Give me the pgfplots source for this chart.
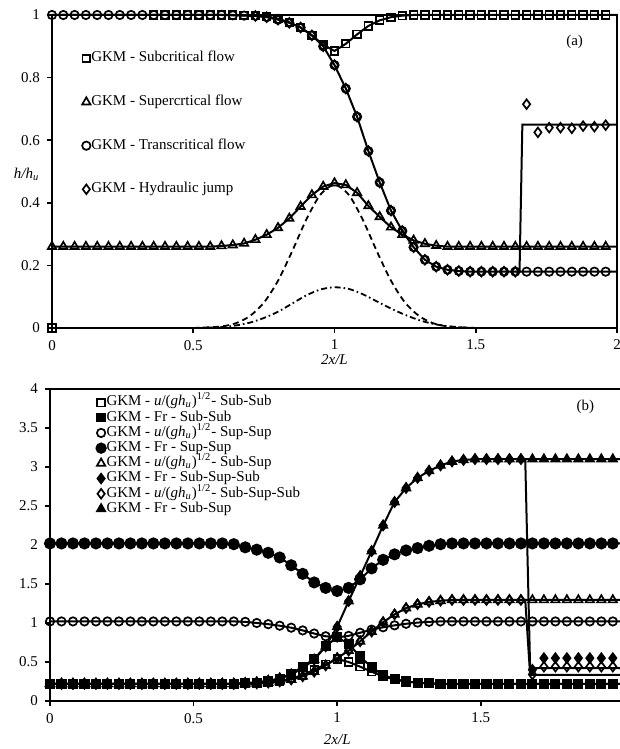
\documentclass[border=0pt]{standalone}
\usepackage{fontspec}
\setmainfont{Liberation Serif}
\usepackage{pgfplots}
\usepackage{pgfplotstable}
\pgfplotsset{compat=1.18}

% panel (a): h/hu for the four test cases
\pgfplotstableread{
x sub sup tra jmp
0.00 1 0.26 1 1
0.04 1 0.26 1 1
0.08 1 0.26 1 1
0.12 1 0.26 1 1
0.16 1 0.26 1 1
0.20 1 0.26 1 1
0.24 1 0.26 1 1
0.28 1 0.26 1 1
0.32 1 0.26 1 1
0.36 1 0.26 1 1
0.40 1 0.26 1 1
0.44 1 0.26 1 1
0.48 1 0.26 1 1
0.52 1 0.26 1 1
0.56 1 0.26 1 1
0.60 1 0.262 1 1
0.64 1 0.265 0.999 0.999
0.68 0.999 0.270 0.998 0.998
0.72 0.998 0.282 0.997 0.997
0.76 0.995 0.298 0.993 0.993
0.80 0.988 0.320 0.985 0.985
0.84 0.977 0.350 0.975 0.975
0.88 0.960 0.388 0.960 0.960
0.92 0.935 0.425 0.935 0.935
0.96 0.905 0.452 0.900 0.900
1.00 0.885 0.463 0.840 0.840
1.04 0.908 0.457 0.765 0.765
1.08 0.938 0.432 0.675 0.675
1.12 0.965 0.390 0.565 0.565
1.16 0.983 0.355 0.465 0.465
1.20 0.993 0.322 0.375 0.375
1.24 0.998 0.298 0.310 0.310
1.28 1 0.280 0.258 0.258
1.32 1 0.269 0.218 0.218
1.36 1 0.263 0.196 0.196
1.40 1 0.260 0.186 0.186
1.44 1 0.26 0.182 0.182
1.48 1 0.26 0.18 0.18
1.52 1 0.26 0.18 0.18
1.56 1 0.26 0.18 0.18
1.60 1 0.26 0.18 0.18
1.64 1 0.26 0.18 0.18
1.68 1 0.26 0.18 0.715
1.72 1 0.26 0.18 0.625
1.76 1 0.26 0.18 0.640
1.80 1 0.26 0.18 0.640
1.84 1 0.26 0.18 0.638
1.88 1 0.26 0.18 0.645
1.92 1 0.26 0.18 0.643
1.96 1 0.26 0.18 0.648
2.00 1 0.26 0.18 0.650
}\tabA

% panel (b): u/(g hu)^1/2 and Fr
\pgfplotstableread{
x uSS FSS uPP FPP uSP FSP uSPS FSPS
0.00 0.22 0.22 1.02 2.02 0.22 0.22 0.22 0.22
0.04 0.22 0.22 1.02 2.02 0.22 0.22 0.22 0.22
0.08 0.22 0.22 1.02 2.02 0.22 0.22 0.22 0.22
0.12 0.22 0.22 1.02 2.02 0.22 0.22 0.22 0.22
0.16 0.22 0.22 1.02 2.02 0.22 0.22 0.22 0.22
0.20 0.22 0.22 1.02 2.02 0.22 0.22 0.22 0.22
0.24 0.22 0.22 1.02 2.02 0.22 0.22 0.22 0.22
0.28 0.22 0.22 1.02 2.02 0.22 0.22 0.22 0.22
0.32 0.22 0.22 1.02 2.02 0.22 0.22 0.22 0.22
0.36 0.22 0.22 1.02 2.02 0.22 0.22 0.22 0.22
0.40 0.22 0.22 1.02 2.02 0.22 0.22 0.22 0.22
0.44 0.22 0.22 1.02 2.02 0.22 0.22 0.22 0.22
0.48 0.22 0.22 1.02 2.02 0.22 0.22 0.22 0.22
0.52 0.22 0.22 1.02 2.02 0.22 0.22 0.22 0.22
0.56 0.22 0.22 1.02 2.02 0.22 0.22 0.22 0.22
0.60 0.22 0.22 1.02 2.02 0.22 0.22 0.22 0.22
0.64 0.22 0.22 1.02 2.01 0.22 0.22 0.22 0.22
0.68 0.22 0.225 1.015 1.97 0.22 0.23 0.22 0.23
0.72 0.225 0.235 1.00 1.94 0.225 0.24 0.225 0.24
0.76 0.235 0.25 0.985 1.90 0.235 0.26 0.235 0.26
0.80 0.255 0.285 0.965 1.84 0.25 0.29 0.25 0.29
0.84 0.285 0.35 0.94 1.74 0.275 0.34 0.275 0.34
0.88 0.335 0.44 0.905 1.63 0.315 0.42 0.315 0.42
0.92 0.40 0.54 0.865 1.52 0.375 0.53 0.375 0.53
0.96 0.47 0.70 0.83 1.45 0.455 0.70 0.455 0.70
1.00 0.54 0.82 0.815 1.41 0.55 0.95 0.55 0.95
1.04 0.50 0.73 0.835 1.45 0.645 1.28 0.645 1.28
1.08 0.44 0.57 0.875 1.56 0.765 1.60 0.765 1.60
1.12 0.375 0.43 0.915 1.70 0.89 1.92 0.89 1.92
1.16 0.315 0.335 0.945 1.81 1.01 2.25 1.01 2.25
1.20 0.275 0.28 0.97 1.88 1.11 2.55 1.11 2.55
1.24 0.25 0.25 0.99 1.93 1.19 2.73 1.19 2.73
1.28 0.235 0.235 1.005 1.96 1.24 2.86 1.24 2.86
1.32 0.225 0.225 1.015 1.99 1.27 2.95 1.27 2.95
1.36 0.22 0.22 1.02 2.01 1.285 3.02 1.285 3.02
1.40 0.22 0.22 1.02 2.02 1.295 3.07 1.295 3.07
1.44 0.22 0.22 1.02 2.02 1.295 3.09 1.295 3.09
1.48 0.22 0.22 1.02 2.02 1.295 3.10 1.295 3.10
1.52 0.22 0.22 1.02 2.02 1.295 3.10 1.295 3.10
1.56 0.22 0.22 1.02 2.02 1.295 3.10 1.295 3.10
1.60 0.22 0.22 1.02 2.02 1.295 3.10 1.295 3.10
1.64 0.22 0.22 1.02 2.02 1.295 3.10 1.295 3.10
1.68 0.22 0.22 1.02 2.02 1.295 3.10 0.34 0.40
1.72 0.22 0.22 1.02 2.02 1.295 3.10 0.44 0.55
1.76 0.22 0.22 1.02 2.02 1.295 3.10 0.44 0.55
1.80 0.22 0.22 1.02 2.02 1.295 3.10 0.44 0.55
1.84 0.22 0.22 1.02 2.02 1.295 3.10 0.44 0.55
1.88 0.22 0.22 1.02 2.02 1.295 3.10 0.44 0.55
1.92 0.22 0.22 1.02 2.02 1.295 3.10 0.44 0.55
1.96 0.22 0.22 1.02 2.02 1.295 3.10 0.44 0.55
1.985 0.22 0.22 1.02 2.02 1.295 3.10 0.44 0.55
}\tabB

\pgfplotsset{
  panel/.style={
    scale only axis, clip=false, anchor=south west,
    axis line style={-, line width=1pt},
    tick align=outside, xtick pos=bottom, ytick pos=left,
    major tick length=2.5pt,
    every tick/.style={black, line width=0.8pt},
    tick label style={font=\fontsize{7.5}{9}\selectfont},
    /pgf/number format/assume math mode=true,
    label style={font=\fontsize{7.5}{9}\selectfont},
    legend image code/.code={\draw[##1] plot coordinates {(0.09cm,0cm)};},
    legend cell align=left,
  },
  sol/.style={black, line width=1pt, no marks, forget plot},
  mk/.style={black, only marks, mark options={solid, line width=0.85pt}, forget plot},
}

\begin{document}
\begin{tikzpicture}
\path[use as bounding box] (0,0) rectangle (310pt,374.5pt);

\begin{axis}[panel, at={(26pt,210.5pt)}, width=282.5pt, height=156.5pt,
  xmin=0, xmax=2, ymin=0, ymax=1,
  xtick={0,0.5,1,1.5,2}, ytick={0,0.2,0.4,0.6,0.8,1},
  xlabel={\textit{2x/L}},
  xlabel style={at={(rel axis cs:0.5,0)}, anchor=center, yshift=-16pt},
  ylabel={\textit{h/h}\textsubscript{\textit{u}}},
  ylabel style={at={(rel axis cs:-0.045,0.49)}, anchor=center, rotate=-90},
  legend style={draw=none, fill=none, at={(rel axis cs:0.042,0.9)}, anchor=north west,
    font=\fontsize{7.5}{9}\selectfont, row sep=14pt,
    nodes={inner sep=0.4pt, text height=5.2pt, text depth=1.8pt}},
]
\addlegendimage{mark=square, mark size=1.9pt, line width=0.85pt}
\addlegendentry{GKM - Subcritical flow}
\addlegendimage{mark=triangle, mark size=2.4pt, line width=0.85pt}
\addlegendentry{GKM - Supercrtical flow}
\addlegendimage{mark=o, mark size=2.1pt, line width=0.85pt}
\addlegendentry{GKM - Transcritical flow}
\addlegendimage{mark=diamond, mark size=2.4pt, line width=0.85pt}
\addlegendentry{GKM - Hydraulic jump}

% bed profiles
\addplot[black, line width=0.9pt, dash pattern=on 3pt off 2pt, smooth, forget plot] coordinates {
(0.50,0.000) (0.55,0.002) (0.60,0.005) (0.65,0.015) (0.70,0.038) (0.75,0.081)
(0.80,0.151) (0.85,0.245) (0.90,0.346) (0.95,0.426) (1.00,0.457) (1.05,0.426)
(1.10,0.346) (1.15,0.245) (1.20,0.151) (1.25,0.081) (1.30,0.038) (1.35,0.015)
(1.40,0.005) (1.45,0.002) (1.50,0.000)};
\addplot[black, line width=0.9pt, dash pattern=on 3pt off 1.5pt on 0.8pt off 1.5pt, smooth, forget plot] coordinates {
(0.50,0.000) (0.55,0.001) (0.60,0.003) (0.65,0.008) (0.70,0.017) (0.75,0.032)
(0.80,0.052) (0.85,0.078) (0.90,0.104) (0.95,0.123) (1.00,0.130) (1.05,0.125)
(1.10,0.108) (1.15,0.085) (1.20,0.062) (1.25,0.042) (1.30,0.025) (1.35,0.013)
(1.40,0.006) (1.45,0.002) (1.50,0.000)};

% analytical solutions
\addplot[sol] table[x=x, y=sub] {\tabA};
\addplot[sol] table[x=x, y=sup] {\tabA};
\addplot[sol] table[x=x, y=tra] {\tabA};
\addplot[sol] coordinates {(1.64,0.18) (1.655,0.18) (1.665,0.65) (2,0.65)};

% GKM results
\addplot[mk, mark=triangle, mark size=2.4pt, restrict x to domain=0:1.97] table[x=x, y=sup] {\tabA};
\addplot[mk, mark=o, mark size=2.1pt, restrict x to domain=0:1.97] table[x=x, y=tra] {\tabA};
\addplot[mk, mark=square, mark size=1.9pt, restrict x to domain=0.35:1.97] table[x=x, y=sub] {\tabA};
\addplot[mk, mark=diamond, mark size=2.4pt, restrict x to domain=0.7:1.97] table[x=x, y=jmp] {\tabA};
\addplot[mk, mark=square, mark size=1.9pt] coordinates {(0,0)};

\node[font=\fontsize{7.5}{9}\selectfont] at (axis cs:1.85,0.915) {(a)};
\end{axis}

\begin{axis}[panel, at={(25pt,24pt)}, width=285pt, height=156pt,
  axis x line*=box, axis y line*=left,
  xmin=0, xmax=1.985, ymin=0, ymax=4,
  xtick={0,0.5,1,1.5}, ytick={0,0.5,1,1.5,2,2.5,3,3.5,4},
  xlabel={\textit{2x/L}},
  xlabel style={at={(rel axis cs:0.504,0)}, anchor=center, yshift=-19.5pt},
  legend style={draw=none, fill=none, at={(rel axis cs:0.07,0.995)}, anchor=north west,
    font=\fontsize{7.5}{9}\selectfont, row sep=0pt,
    nodes={inner sep=0.3pt, text height=5.2pt, text depth=1.8pt}},
]
\addlegendimage{mark=square, mark size=1.9pt, line width=0.85pt}
\addlegendentry{GKM - \textit{u}/(\textit{gh}\textsubscript{\textit{u}})\textsuperscript{1/2}- Sub-Sub}
\addlegendimage{mark=square*, mark size=1.9pt, line width=0.85pt}
\addlegendentry{GKM - Fr - Sub-Sub}
\addlegendimage{mark=o, mark size=2.1pt, line width=0.85pt}
\addlegendentry{GKM - \textit{u}/(\textit{gh}\textsubscript{\textit{u}})\textsuperscript{1/2}- Sup-Sup}
\addlegendimage{mark=*, mark size=2.4pt, line width=0.85pt}
\addlegendentry{GKM - Fr - Sup-Sup}
\addlegendimage{mark=triangle, mark size=2.4pt, line width=0.85pt}
\addlegendentry{GKM - \textit{u}/(\textit{gh}\textsubscript{\textit{u}})\textsuperscript{1/2}- Sub-Sup}
\addlegendimage{mark=diamond*, mark size=2.4pt, line width=0.85pt}
\addlegendentry{GKM - Fr - Sub-Sup-Sub}
\addlegendimage{mark=diamond, mark size=2.4pt, line width=0.85pt}
\addlegendentry{GKM - \textit{u}/(\textit{gh}\textsubscript{\textit{u}})\textsuperscript{1/2}- Sub-Sup-Sub}
\addlegendimage{mark=triangle*, mark size=2.4pt, line width=0.85pt}
\addlegendentry{GKM - Fr - Sub-Sup}

% analytical solutions
\addplot[sol] table[x=x, y=uSS] {\tabB};
\addplot[sol] table[x=x, y=FSS] {\tabB};
\addplot[sol] table[x=x, y=uPP] {\tabB};
\addplot[sol] table[x=x, y=FPP] {\tabB};
\addplot[sol] table[x=x, y=uSP] {\tabB};
\addplot[sol] table[x=x, y=FSP] {\tabB};
\addplot[sol] coordinates {(1.64,3.10) (1.655,3.10) (1.672,0.42) (1.985,0.42)};
\addplot[sol] coordinates {(1.64,1.295) (1.655,1.295) (1.672,0.335) (1.985,0.335)};

% GKM results
\addplot[mk, mark=triangle, mark size=2.4pt, restrict x to domain=0:1.97] table[x=x, y=uSP] {\tabB};
\addplot[mk, mark=triangle*, mark size=2.4pt, restrict x to domain=0:1.97] table[x=x, y=FSP] {\tabB};
\addplot[mk, mark=diamond, mark size=2.4pt, restrict x to domain=0:1.97] table[x=x, y=uSPS] {\tabB};
\addplot[mk, mark=diamond*, mark size=2.4pt, restrict x to domain=0:1.97] table[x=x, y=FSPS] {\tabB};
\addplot[mk, mark=o, mark size=2.1pt, restrict x to domain=0:1.97] table[x=x, y=uPP] {\tabB};
\addplot[mk, mark=*, mark size=2.6pt, restrict x to domain=0:1.97] table[x=x, y=FPP] {\tabB};
\addplot[mk, mark=square, mark size=1.9pt, restrict x to domain=0:1.97] table[x=x, y=uSS] {\tabB};
\addplot[mk, mark=square*, mark size=2.1pt, restrict x to domain=0:1.97] table[x=x, y=FSS] {\tabB};

\node[font=\fontsize{7.5}{9}\selectfont] at (axis cs:1.864,3.77) {(b)};
\end{axis}
\end{tikzpicture}
\end{document}
